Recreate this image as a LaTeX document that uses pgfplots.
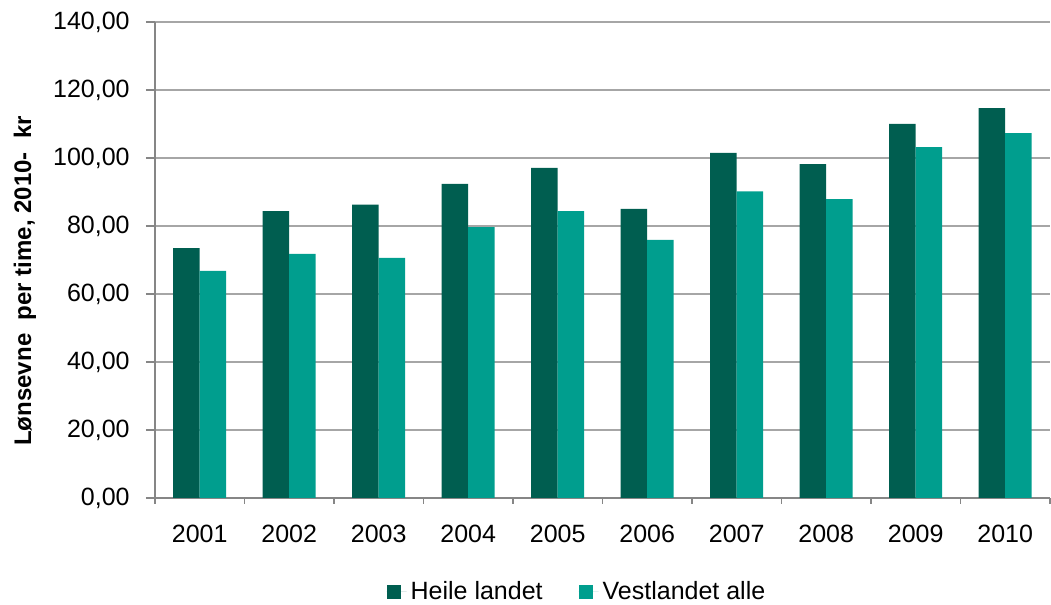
\documentclass[border=0pt]{standalone}
\usepackage{fontspec}
\setmainfont{Liberation Sans}
\usepackage{pgfplots}
\pgfplotsset{compat=1.18}
\definecolor{darkc}{HTML}{005E50}
\definecolor{lightc}{HTML}{009E8E}
\definecolor{gridc}{HTML}{A6A6A6}
\definecolor{axisc}{HTML}{868686}
\begin{document}
\begin{tikzpicture}[font=\fontsize{12.5}{15}\selectfont]
\useasboundingbox (-77.5pt,-53.5pt) rectangle (448pt,249pt);
\begin{axis}[
  at={(0,0)}, anchor=south west,
  scale only axis, width=447.5pt, height=238pt,
  xmin=-0.5, xmax=9.5, ymin=0, ymax=140,
  ybar=0pt, bar width=13.25pt,
  axis lines=left, axis line style={-, axisc, line width=0.8pt},
  ytick={0,20,...,140}, ymajorgrids, grid style={gridc, line width=0.8pt},
  xtick={0,...,9},
  xticklabels={2001,2002,2003,2004,2005,2006,2007,2008,2009,2010},
  minor xtick={-0.5,0.5,...,9.5},
  major x tick style={draw=none},
  minor x tick style={axisc, line width=0.8pt},
  major y tick style={axisc, line width=0.8pt},
  tick align=outside,
  major tick length=4.5pt, minor tick length=3pt,
  /pgf/number format/assume math mode=true,
  yticklabel={\pgfmathprintnumber[fixed, fixed zerofill, precision=2, use comma]{\tick}},
  yticklabel style={anchor=east, inner sep=0pt, xshift=-8pt},
  xticklabel style={anchor=north, inner sep=0pt, yshift=-9pt},
  every axis y label/.style={at={(axis description cs:-0.1453,0.456)}, rotate=90, anchor=center},
  ylabel={\bfseries\fontsize{12}{14}\selectfont Lønsevne\ \ per time, 2010-\ \ kr},
  legend style={at={(axis description cs:0.4726,-0.197)}, anchor=center, draw=none,
    legend columns=2, /tikz/every even column/.append style={column sep=16pt},
    font=\fontsize{12.5}{15}\selectfont},
  legend image code/.code={\draw[#1, draw=none] (0pt,-3.5pt) rectangle (7pt,3.5pt);
    \path (0pt,0pt) -- (10pt,0pt);},
]
\addplot[fill=darkc, draw=none] coordinates {
  (0,73.5) (1,84.4) (2,86.3) (3,92.4) (4,97.1) (5,85.0) (6,101.5) (7,98.2) (8,110.0) (9,114.7)};
\addplot[fill=lightc, draw=none] coordinates {
  (0,66.8) (1,71.8) (2,70.6) (3,79.7) (4,84.4) (5,75.9) (6,90.2) (7,87.9) (8,103.2) (9,107.3)};
\legend{Heile landet, Vestlandet alle}
\end{axis}
\end{tikzpicture}
\end{document}
